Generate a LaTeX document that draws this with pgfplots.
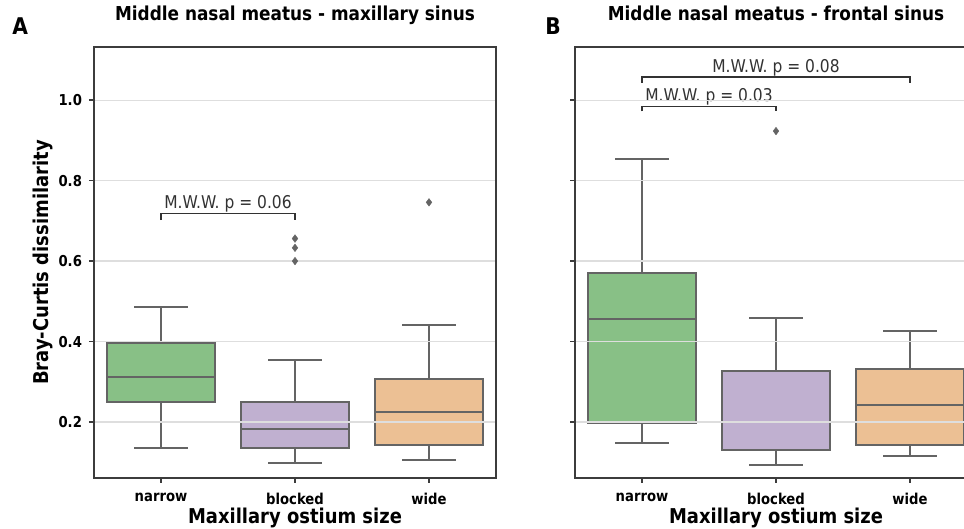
\documentclass[border=0pt]{standalone}
\usepackage{fontspec}
\setmainfont{DejaVu Sans}[FakeStretch=0.88]
\usepackage{pgfplots}
\pgfplotsset{compat=1.18}
\usepgfplotslibrary{statistics}
\definecolor{cgreen}{RGB}{136,192,134}
\definecolor{cpurple}{RGB}{192,176,208}
\definecolor{corange}{RGB}{236,192,148}
\definecolor{cline}{RGB}{100,100,100}
\definecolor{cspine}{RGB}{60,60,60}
\definecolor{ctext}{RGB}{50,50,50}
\pgfplotsset{
  panel/.style={
    scale only axis, width=201pt, height=215.5pt,
    xmin=-0.5, xmax=2.5, ymin=0.061, ymax=1.132,
    boxplot/draw direction=y,
    xtick={0,1,2}, xticklabels={narrow,blocked,wide},
    ytick={0.2,0.4,0.6,0.8,1.0},
    yticklabel style={/pgf/number format/fixed,/pgf/number format/precision=1,/pgf/number format/fixed zerofill},
    /pgf/number format/assume math mode=true,
    ticklabel style={font=\bfseries\fontsize{7.5}{9}\selectfont, text=black},
    xticklabel style={yshift=-1.5pt},
    tick align=outside, major tick length=2.5pt,
    xtick pos=left, ytick pos=left,
    tick style={draw=cspine, line width=0.7pt},
    axis line style={draw=cspine, line width=0.8pt},
    ymajorgrids, grid style={draw=black!13, line width=0.6pt},
    axis on top,
    xlabel={Maxillary ostium size},
    every axis x label/.style={at={(axis description cs:0.5,0)}, anchor=base, yshift=-23pt, font=\bfseries\fontsize{10.2}{12}\selectfont},
    title style={at={(axis description cs:0.5,1)}, anchor=base, yshift=7pt, font=\bfseries\fontsize{9.6}{11}\selectfont},
    anchor=south west,
  },
  bx/.style={draw=cline, fill=#1, line width=1.0pt},
  outl/.style={only marks, mark=diamond*, mark size=1.9pt, mark options={fill=cline, draw=cline, line width=0.2pt}},
  brk/.style={draw=ctext, line width=0.8pt, mark=none},
}
\newcommand{\ann}{\color{ctext}\fontsize{8.8}{10}\selectfont}
\begin{document}
\begin{tikzpicture}
\path[use as bounding box, clip] (0,0) rectangle (482pt,264.5pt);
% Panel A
\begin{axis}[panel, at={(47pt,25.5pt)},
  title={Middle nasal meatus - maxillary sinus},
  ylabel={Bray-Curtis dissimilarity},
  every axis y label/.style={at={(axis description cs:-0.1269,0.5)}, rotate=90, anchor=center, font=\bfseries\fontsize{10.2}{12}\selectfont},
]
\addplot[bx=cgreen, boxplot prepared={lower whisker=0.1345, lower quartile=0.251, median=0.313, upper quartile=0.3975, upper whisker=0.487, draw position=0, box extend=0.8, whisker extend=0.4}] coordinates {};
\addplot[bx=cpurple, boxplot prepared={lower whisker=0.098, lower quartile=0.1345, median=0.183, upper quartile=0.251, upper whisker=0.354, draw position=1, box extend=0.8, whisker extend=0.4}] coordinates {};
\addplot[bx=corange, boxplot prepared={lower whisker=0.105, lower quartile=0.142, median=0.224, upper quartile=0.307, upper whisker=0.440, draw position=2, box extend=0.8, whisker extend=0.4}] coordinates {};
\addplot[outl] coordinates {(1,0.656) (1,0.633) (1,0.600)};
\addplot[outl] coordinates {(2,0.746)};
\addplot[brk] coordinates {(0,0.702) (0,0.718) (1,0.718) (1,0.702)};
\node[anchor=base, inner sep=0pt] at (axis cs:0.5,0.730) {\ann M.W.W. p = 0.06};
\end{axis}
% Panel B
\begin{axis}[panel, at={(287.5pt,25.5pt)},
  title={Middle nasal meatus - frontal sinus},
  yticklabels={},
]
\addplot[bx=cgreen, boxplot prepared={lower whisker=0.148, lower quartile=0.1975, median=0.457, upper quartile=0.571, upper whisker=0.853, draw position=0, box extend=0.8, whisker extend=0.4}] coordinates {};
\addplot[bx=cpurple, boxplot prepared={lower whisker=0.094, lower quartile=0.131, median=0.200, upper quartile=0.328, upper whisker=0.459, draw position=1, box extend=0.8, whisker extend=0.4}] coordinates {};
\addplot[bx=corange, boxplot prepared={lower whisker=0.116, lower quartile=0.144, median=0.243, upper quartile=0.333, upper whisker=0.427, draw position=2, box extend=0.8, whisker extend=0.4}] coordinates {};
\addplot[outl] coordinates {(1,0.923)};
\addplot[brk] coordinates {(0,1.043) (0,1.057) (2,1.057) (2,1.043)};
\addplot[brk] coordinates {(0,0.972) (0,0.984) (1,0.984) (1,0.972)};
\node[anchor=base, inner sep=0pt] at (axis cs:1,1.068) {\ann M.W.W. p = 0.08};
\node[anchor=base, inner sep=0pt] at (axis cs:0.5,0.996) {\ann M.W.W. p = 0.03};
\end{axis}
\node[anchor=base west, inner sep=0pt, font=\bfseries\fontsize{11.5}{13}\selectfont] at (6pt,247pt) {A};
\node[anchor=base west, inner sep=0pt, font=\bfseries\fontsize{11.5}{13}\selectfont] at (272.5pt,247pt) {B};
\end{tikzpicture}
\end{document}
